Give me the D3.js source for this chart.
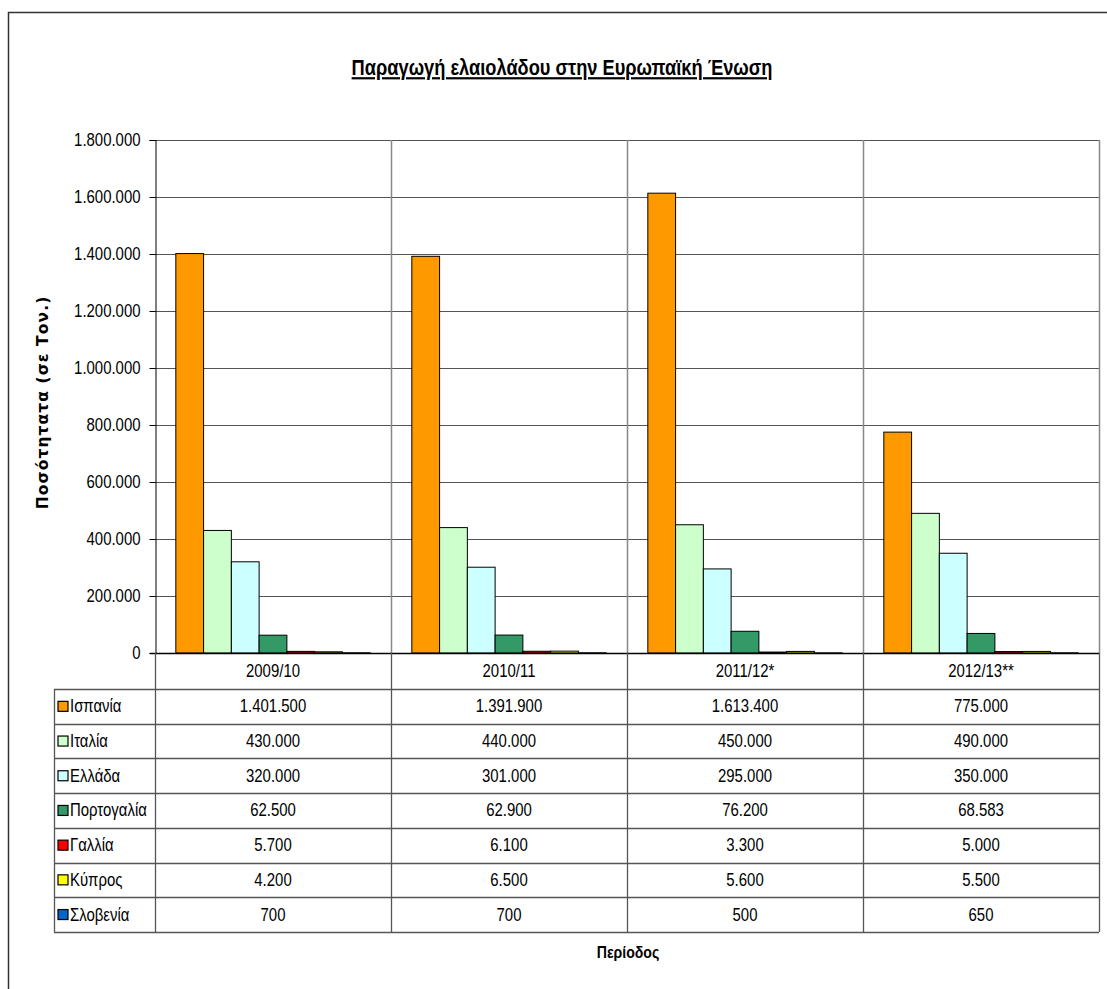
<!DOCTYPE html>
<html>
<head>
<meta charset="utf-8">
<script src="https://cdn.jsdelivr.net/npm/d3@7/dist/d3.min.js"></script>
<style>
  body { margin: 0; background: #fff; }
  svg { display: block; }
  text { font-family: "Liberation Sans", Arial, sans-serif; fill: #000; }
</style>
</head>
<body>
<svg id="chart" width="1107" height="989"></svg>
<script>
const periods = ['2009/10', '2010/11', '2011/12*', '2012/13**'];
const countries = ['Ισπανία', 'Ιταλία', 'Ελλάδα', 'Πορτογαλία', 'Γαλλία', 'Κύπρος', 'Σλοβενία'];
const colors = ['#FF9900', '#CCFFCC', '#CCFFFF', '#339966', '#FF0000', '#FFFF00', '#0066CC'];

const spain    = [1401500, 1391900, 1613400, 775000];
const italy    = [430000, 440000, 450000, 490000];
const greece   = [320000, 301000, 295000, 350000];
const portugal = [62500, 62900, 76200, 68583];
const france   = [5700, 6100, 3300, 5000];
const cyprus   = [4200, 6500, 5600, 5500];
const slovenia = [700, 700, 500, 650];
const yTicks = [0, 200000, 400000, 600000, 800000, 1000000, 1200000, 1400000, 1600000, 1800000];

const series = [spain, italy, greece, portugal, france, cyprus, slovenia];

const locale = d3.formatLocale({ decimal: ',', thousands: '.', grouping: [3], currency: ['', ''] });
const fmt = locale.format(',d');

const svg = d3.select('#chart');
const plot = { left: 155, right: 1099, top: 140, bottom: 653 };
const tableLeft = 54;
const headerBottom = 689;
const rowH = 34.7;
const fontSize = '18px';
const sx = 0.83; // no Arial Narrow installed, squeeze Liberation Sans instead

// places a text at (x, y) horizontally squeezed
const narrowAt = (sel, fx, fy) =>
    sel.attr('transform', (d, i) => `translate(${fx(d, i)},${fy(d, i)}) scale(${sx},1)`);

// outer frame (cut off at the right and bottom)
svg.append('path')
    .attr('d', 'M8.5,1000 L8.5,12.5 L1120,12.5')
    .attr('fill', 'none')
    .attr('stroke', '#333')
    .attr('stroke-width', 1.5);

svg.append('text')
    .call(narrowAt, () => 562, () => 75)
    .attr('text-anchor', 'middle')
    .style('font-size', '22px')
    .style('font-weight', 'bold')
    .style('text-decoration', 'underline')
    .text('Παραγωγή ελαιολάδου στην Ευρωπαϊκή Ένωση');

const x = d3.scaleBand()
    .domain(periods)
    .range([plot.left, plot.right]);

// gap width 150%: 7 bars + 1.5 bar of gap per period
const barW = x.bandwidth() / 8.5;
const xInner = d3.scaleBand()
    .domain(countries)
    .range([barW * 0.75, x.bandwidth() - barW * 0.75]);

const y = d3.scaleLinear()
    .domain([0, 1800000])
    .range([plot.bottom, plot.top]);

// gridlines
svg.append('g')
    .selectAll('line')
    .data(yTicks.slice(1))
    .enter().append('line')
    .attr('x1', plot.left)
    .attr('x2', plot.right)
    .attr('y1', d => Math.round(y(d)) + 0.5)
    .attr('y2', d => Math.round(y(d)) + 0.5)
    .attr('stroke', '#555')
    .attr('stroke-width', 1);

// vertical separators between periods + right border
svg.append('g')
    .selectAll('line')
    .data(periods.slice(1).map(p => x(p)).concat([plot.right]))
    .enter().append('line')
    .attr('x1', d => Math.round(d) + 0.5)
    .attr('x2', d => Math.round(d) + 0.5)
    .attr('y1', plot.top)
    .attr('y2', plot.bottom)
    .attr('stroke', '#888')
    .attr('stroke-width', 1.5);

// bars
periods.forEach((p, pi) => {
    svg.append('g')
        .selectAll('rect')
        .data(series.map((s, si) => ({ name: countries[si], value: s[pi], color: colors[si] })))
        .enter().append('rect')
        .attr('x', d => x(p) + xInner(d.name))
        .attr('y', d => y(d.value))
        .attr('width', xInner.bandwidth())
        .attr('height', d => y(0) - y(d.value))
        .attr('fill', d => d.color)
        .attr('stroke', '#000')
        .attr('stroke-width', 1);
});

// y axis
const yAxis = svg.append('g')
    .attr('transform', `translate(${plot.left + 0.5},0)`)
    .call(d3.axisLeft(y).tickValues(yTicks).tickFormat(fmt).tickSize(6).tickPadding(8));
yAxis.select('.domain').attr('stroke', '#000');
yAxis.selectAll('.tick text')
    .attr('x', -15 / sx)
    .attr('transform', `scale(${sx},1)`)
    .style('font-size', fontSize)
    .style('font-family', '"Liberation Sans", Arial, sans-serif');

// x axis line
svg.append('line')
    .attr('x1', plot.left - 5)
    .attr('x2', plot.right)
    .attr('y1', plot.bottom + 0.5)
    .attr('y2', plot.bottom + 0.5)
    .attr('stroke', '#000')
    .attr('stroke-width', 1.5);

svg.append('text')
    .attr('transform', `translate(48,${(plot.top + plot.bottom) / 2 + 6}) rotate(-90)`)
    .attr('text-anchor', 'middle')
    .style('font-family', '"DejaVu Sans", Verdana, sans-serif')
    .style('font-size', '15.5px')
    .style('letter-spacing', '1.1px')
    .style('font-weight', 'bold')
    .text('Ποσότητατα (σε Τον.)');

// data table
const table = svg.append('g');
const tableBottom = headerBottom + rowH * countries.length;
const lineColor = '#555';

d3.range(countries.length + 1).forEach(i => {
    const yy = Math.round(headerBottom + i * rowH) + 0.5;
    table.append('line')
        .attr('x1', tableLeft).attr('x2', plot.right)
        .attr('y1', yy).attr('y2', yy)
        .attr('stroke', lineColor).attr('stroke-width', 1.3);
});
table.append('line')
    .attr('x1', tableLeft + 0.5).attr('x2', tableLeft + 0.5)
    .attr('y1', headerBottom).attr('y2', tableBottom)
    .attr('stroke', lineColor).attr('stroke-width', 1.3);
periods.map(p => x(p)).concat([plot.right]).forEach(xx => {
    table.append('line')
        .attr('x1', Math.round(xx) + 0.5).attr('x2', Math.round(xx) + 0.5)
        .attr('y1', plot.bottom).attr('y2', tableBottom)
        .attr('stroke', lineColor).attr('stroke-width', 1.3);
});

// header labels
table.selectAll('.period')
    .data(periods)
    .enter().append('text')
    .call(narrowAt, d => x(d) + x.bandwidth() / 2, () => plot.bottom + 24)
    .attr('text-anchor', 'middle')
    .style('font-size', fontSize)
    .text(d => d);

// rows
countries.forEach((c, ci) => {
    const rowY = headerBottom + ci * rowH;
    table.append('rect')
        .attr('x', tableLeft + 4)
        .attr('y', rowY + rowH / 2 - 5)
        .attr('width', 10)
        .attr('height', 10)
        .attr('fill', colors[ci])
        .attr('stroke', '#000')
        .attr('stroke-width', 1.2);
    table.append('text')
        .call(narrowAt, () => tableLeft + 16, () => rowY + rowH / 2 + 6)
        .style('font-size', fontSize)
        .text(c);
    table.selectAll(null)
        .data(series[ci])
        .enter().append('text')
        .call(narrowAt, (d, i) => x(periods[i]) + x.bandwidth() / 2, () => rowY + rowH / 2 + 6)
        .attr('text-anchor', 'middle')
        .style('font-size', fontSize)
        .text(d => fmt(d));
});

svg.append('text')
    .call(narrowAt, () => 628, () => 958)
    .attr('text-anchor', 'middle')
    .style('font-size', '17px')
    .style('font-weight', 'bold')
    .text('Περίοδος');
</script>
</body>
</html>
